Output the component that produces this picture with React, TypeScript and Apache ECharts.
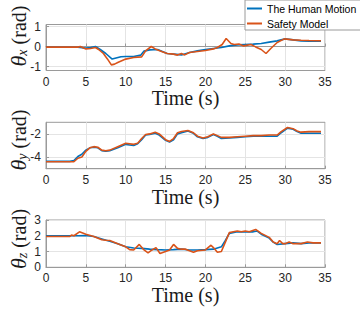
import React, { useEffect, useRef } from "react";
import * as echarts from "echarts";

// ---- θx ----
const xHumanT = [0, 4, 5, 5.6, 6.2, 6.8, 7.5, 8.3, 9.4, 10, 11, 11.9, 12.3, 13, 14, 15.2, 16, 17, 18, 19, 20, 21, 22, 23, 24, 25, 26, 27, 28, 29, 30, 31, 32, 33, 34.5];
const xHumanV = [-0.03, -0.04, -0.08, -0.05, 0.0, -0.15, -0.35, -0.63, -0.51, -0.5, -0.5, -0.43, -0.23, -0.17, -0.15, -0.35, -0.38, -0.42, -0.3, -0.22, -0.15, -0.1, -0.05, 0.03, 0.08, 0.1, 0.12, 0.15, 0.22, 0.28, 0.38, 0.33, 0.28, 0.26, 0.26];
const xSafeT = [0, 4, 4.3, 5, 5.6, 6.2, 6.6, 7.2, 7.7, 8.2, 8.6, 9, 10, 11, 12, 12.5, 13.2, 13.7, 14.5, 15.2, 16, 16.5, 17, 17.4, 18, 19, 20, 21, 21.5, 22.1, 22.6, 23.2, 23.6, 24.2, 24.8, 25.7, 26.3, 27, 27.6, 28.2, 29, 29.9, 31, 32, 33, 34.5];
const xSafeV = [-0.03, -0.03, 0.0, -0.12, -0.1, -0.05, -0.15, -0.35, -0.62, -0.92, -0.88, -0.8, -0.63, -0.55, -0.52, -0.22, 0.0, -0.12, -0.25, -0.35, -0.38, -0.43, -0.35, -0.42, -0.3, -0.25, -0.2, -0.12, -0.05, 0.1, 0.4, 0.15, 0.1, 0.12, 0.03, 0.1, -0.02, -0.15, -0.35, -0.1, 0.2, 0.38, 0.33, 0.31, 0.3, 0.29];

// ---- θy ----
const yHumanT = [0, 3, 3.5, 4, 4.5, 5, 5.5, 6, 6.5, 7, 7.5, 8, 9, 10, 10.5, 11, 11.5, 12, 12.5, 13, 13.7, 14.2, 15, 15.5, 16, 16.5, 17, 17.8, 18.5, 19, 19.7, 20.3, 21, 21.5, 22, 23, 24, 25, 26, 27, 28, 29, 29.5, 30.3, 31, 31.5, 32, 33, 34.5];
const yHumanV = [-4.37, -4.37, -4.3, -3.95, -3.75, -3.4, -3.2, -3.15, -3.2, -3.45, -3.5, -3.45, -3.2, -2.9, -2.95, -3.0, -2.85, -2.5, -2.1, -2.05, -1.95, -2.1, -2.55, -2.7, -2.5, -2.0, -1.9, -1.75, -1.95, -2.25, -2.4, -2.3, -2.05, -2.2, -2.4, -2.35, -2.3, -2.25, -2.2, -2.2, -2.2, -2.2, -1.9, -1.5, -1.6, -1.8, -1.95, -1.95, -1.95];
const ySafeT = [0, 3.5, 4, 4.5, 5, 5.5, 6, 6.5, 7, 7.5, 8, 9, 10, 11, 11.5, 12, 12.5, 13, 13.7, 14.2, 15, 15.5, 16, 16.5, 17, 17.8, 18.5, 19, 19.7, 20.3, 21, 21.5, 22, 23, 24, 25, 26, 27, 28, 29, 29.5, 30.3, 31, 31.5, 32, 33, 34.5];
const ySafeV = [-4.4, -4.4, -4.1, -4.0, -3.5, -3.2, -3.1, -3.15, -3.4, -3.45, -3.4, -3.1, -2.8, -2.9, -2.8, -2.4, -2.05, -2.0, -1.85, -2.0, -2.5, -2.65, -2.4, -1.9, -1.8, -1.7, -1.9, -2.2, -2.35, -2.25, -2.0, -2.15, -2.3, -2.3, -2.25, -2.2, -2.15, -2.15, -2.1, -2.1, -1.8, -1.45, -1.55, -1.75, -1.85, -1.8, -1.8];

// ---- θz ----
const zHumanT = [0, 3, 4, 5, 6, 7, 8, 9, 10, 11, 12, 13, 14, 15, 16, 17, 18, 19, 20, 21, 22, 22.5, 23, 24, 25, 26, 26.5, 27, 28, 28.5, 29, 30, 31, 32, 33, 34.5];
const zHumanV = [2.0, 2.0, 2.0, 2.02, 1.95, 1.8, 1.65, 1.5, 1.3, 1.22, 1.2, 1.15, 1.12, 1.1, 1.12, 1.15, 1.1, 1.1, 1.12, 1.15, 1.3, 1.7, 2.15, 2.25, 2.25, 2.25, 2.3, 2.1, 1.85, 1.6, 1.45, 1.5, 1.55, 1.5, 1.55, 1.55];
const zSafeT = [0, 3, 3.2, 3.5, 4.2, 5, 6, 7, 7.5, 8, 9, 10, 10.5, 11, 11.7, 12.3, 12.8, 13.3, 13.8, 14.3, 15, 15.5, 16, 16.5, 17, 17.5, 18.5, 19, 20, 20.7, 21, 21.5, 22, 22.5, 23, 23.5, 24, 24.5, 25, 25.5, 26.3, 27, 28, 28.5, 29, 29.3, 29.7, 30, 30.5, 31, 32, 32.8, 33.5, 34.5];
const zSafeV = [1.95, 1.95, 2.05, 2.0, 2.25, 2.1, 1.95, 1.75, 1.72, 1.7, 1.5, 1.3, 1.12, 1.1, 1.45, 1.1, 0.92, 1.1, 1.25, 0.88, 1.0, 1.1, 1.45, 1.2, 1.15, 1.15, 0.95, 1.05, 1.1, 1.4, 1.25, 0.95, 1.0, 1.6, 2.2, 2.25, 2.3, 2.25, 2.3, 2.25, 2.4, 2.15, 1.9, 1.6, 1.5, 1.7, 1.5, 1.5, 1.6, 1.5, 1.5, 1.6, 1.55, 1.55];

const xTicks = [0, 5, 10, 15, 20, 25, 30, 35];
const yTicks1 = [-1, 0, 1];
const yTicks2 = [-4, -2];
const yTicks3 = [0, 1, 2, 3];
const seriesNames = ["The Human Motion", "Safety Model"];
const colors = ["#0072BD", "#D95319"];

const zip = (t: number[], v: number[]) => t.map((x, i) => [x, v[i]]);

export default function App() {
  const ref = useRef<HTMLDivElement>(null);
  useEffect(() => {
    const chart = echarts.init(ref.current!, null, { renderer: "svg" });
    const grids = [
      { left: 46, top: 24.5, width: 279, height: 46 },
      { left: 46, top: 122.3, width: 279, height: 46.4 },
      { left: 46, top: 220, width: 279, height: 47.3 },
    ];
    const yRanges = [
      { min: -1.2, max: 1.1, ticks: yTicks1 },
      { min: -5, max: -1, ticks: yTicks2 },
      { min: 0, max: 3, ticks: yTicks3 },
    ];
    const axisColor = "#9a9a9a";
    const gridColor = "#e4e4e4";
    const labelStyle = { color: "#262626", fontSize: 12, fontFamily: "Liberation Sans" };
    const xAxis = grids.map((_, i) => ({
      type: "value",
      gridIndex: i,
      min: xTicks[0],
      max: xTicks[xTicks.length - 1],
      interval: 5,
      name: "Time (s)",
      nameLocation: "middle",
      nameGap: 16,
      nameTextStyle: { fontFamily: "Liberation Serif", fontSize: 20, color: "#1a1a1a" },
      axisLine: { show: true, lineStyle: { color: axisColor, width: 1 } },
      axisTick: { show: true, inside: true, length: 3, lineStyle: { color: axisColor } },
      axisLabel: { ...labelStyle, margin: 5, showMinLabel: true, showMaxLabel: true },
      splitLine: { show: true, lineStyle: { color: gridColor, width: 1 } },
    }));
    const yAxis = yRanges.map((r, i) => ({
      type: "value",
      gridIndex: i,
      min: r.min,
      max: r.max,
      axisLine: { show: true, lineStyle: { color: axisColor, width: 1 } },
      axisTick: { show: true, inside: true, length: 3, lineStyle: { color: axisColor }, customValues: r.ticks },
      axisLabel: { ...labelStyle, margin: 5, customValues: r.ticks },
      splitLine: { show: true, lineStyle: { color: gridColor, width: 1 } },
    }));
    const pairs = [
      [zip(xHumanT, xHumanV), zip(xSafeT, xSafeV)],
      [zip(yHumanT, yHumanV), zip(ySafeT, ySafeV)],
      [zip(zHumanT, zHumanV), zip(zSafeT, zSafeV)],
    ];
    const series: any[] = [];
    pairs.forEach((p, i) => {
      p.forEach((data, j) => {
        series.push({
          type: "line",
          name: seriesNames[j],
          xAxisIndex: i,
          yAxisIndex: i,
          data,
          showSymbol: false,
          symbol: "none",
          lineStyle: { width: 1.6, color: colors[j] },
          itemStyle: { color: colors[j] },
          z: 3 + j,
        });
      });
    });
    const yNames = [
      { sub: "x", y: 36 },
      { sub: "y", y: 140 },
      { sub: "z", y: 239 },
    ];
    const graphic = yNames.map((n) => ({
      type: "text",
      x: 18.5,
      y: n.y,
      rotation: Math.PI / 2,
      style: {
        text: `{a|θ}{b|${n.sub}}{c| (rad)}`,
        align: "center",
        verticalAlign: "middle",
        fill: "#1a1a1a",
        fontFamily: "Liberation Serif",
        fontSize: 20,
        rich: {
          a: { fontFamily: "Liberation Serif", fontSize: 22, fontStyle: "italic", fill: "#1a1a1a", verticalAlign: "middle" },
          b: { fontFamily: "Liberation Serif", fontSize: 14, fontStyle: "italic", fill: "#1a1a1a", padding: [8, 0, 0, 0] },
          c: { fontFamily: "Liberation Serif", fontSize: 20, fill: "#1a1a1a", verticalAlign: "middle" },
        },
      },
    }));
    chart.setOption({
      animation: false,
      color: colors,
      grid: grids.map((g) => ({ ...g, show: true, borderColor: axisColor, borderWidth: 1, backgroundColor: "#fff" })),
      xAxis,
      yAxis,
      series,
      legend: {
        data: seriesNames,
        orient: "vertical",
        left: 245,
        top: 0,
        backgroundColor: "#fff",
        borderColor: "#9a9a9a",
        borderWidth: 1,
        borderRadius: 0,
        padding: [2, 8, 0, 2],
        itemGap: 2,
        itemWidth: 15,
        itemHeight: 2,
        icon: "rect",
        textStyle: { fontSize: 10.5, fontFamily: "Liberation Sans", color: "#000", lineHeight: 13 },
        z: 10,
      },
      graphic,
    });
    return () => chart.dispose();
  }, []);
  return (
    <div
      ref={ref}
      style={{ position: "fixed", left: 0, top: 0, width: 360, height: 327, background: "#fff" }}
    />
  );
}
